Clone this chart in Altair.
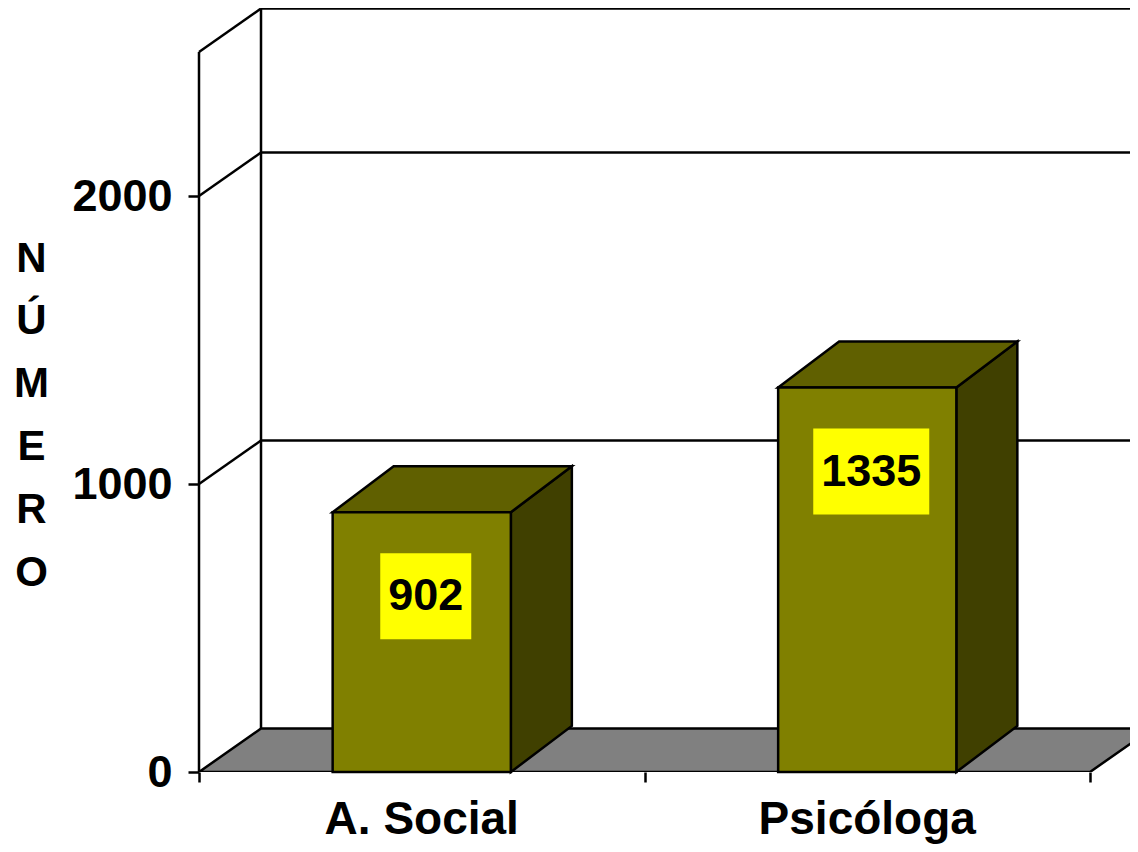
import altair as alt
import pandas as pd

# ---- data ----
categories = ["A. Social", "Psicóloga"]
values = [902, 1335]
y_tick_values = [0, 1000, 2000]
wall_levels = [1000, 2000, 2500]
axis_max = 2500
axis_title = ["N", "Ú", "M", "E", "R", "O"]

# ---- geometry / style constants ----
PX_X = 445.5          # pixels per category slot
PX_Y = 0.288          # pixels per value unit
W, H = 931, 764       # plot area
XMAX = W / PX_X
YMAX = H / PX_Y
WDX = 62 / PX_X       # wall depth offset
WDY = 43.5 / PX_Y
BDX = 61 / PX_X       # bar depth offset
BDY = 46 / PX_Y
BW = 0.4              # bar width in category units
LOFF = 4 / PX_X       # label box horizontal shift
FONT = "Liberation Sans"
LW = 2.5

n = len(categories)
centers = [i + 0.5 for i in range(n)]

xs = alt.Scale(domain=[0, XMAX], nice=False, zero=False)
ys = alt.Scale(domain=[0, YMAX], nice=False, zero=False)

xaxis = alt.Axis(values=list(range(n + 1)), labels=False, title=None, domain=False,
                 grid=False, tickSize=10, tickWidth=LW, tickColor="black")
yaxis = alt.Axis(values=y_tick_values, format="d", domain=False, grid=False, tickSize=11,
                 tickWidth=LW, tickColor="black", labelPadding=16,
                 labelFont=FONT, labelFontSize=45, labelFontWeight="bold",
                 labelColor="black", title=axis_title, titleAngle=0,
                 titleAlign="center", titleBaseline="middle", titleFont=FONT,
                 titleFontSize=42, titleFontWeight="bold", titleColor="black",
                 titleLineHeight=62.8, titleX=-168, titleY=250)


def X(f="x"):
    return alt.X(f"{f}:Q", scale=xs, axis=xaxis)


def Y(f="y"):
    return alt.Y(f"{f}:Q", scale=ys, axis=yaxis)


# floor
floor_df = pd.DataFrame({"y": [0, WDY], "x": [0, WDX], "x2": [n, n + WDX]})
floor = alt.Chart(floor_df).mark_area(
    orient="horizontal", fill="#808080", stroke="black", strokeWidth=LW, clip=True
).encode(y=Y(), x=X(), x2=alt.X2("x2:Q"))

# walls
rows = []
for v in wall_levels:
    rows.append({"x": WDX, "x2": XMAX, "y": v + WDY, "y2": v + WDY})
    rows.append({"x": 0, "x2": WDX, "y": v, "y2": v + WDY})
rows.append({"x": 0, "x2": 0, "y": 0, "y2": axis_max})
rows.append({"x": WDX, "x2": WDX, "y": WDY, "y2": axis_max + WDY})
walls = alt.Chart(pd.DataFrame(rows)).mark_rule(
    color="black", strokeWidth=LW
).encode(x=X(), x2=alt.X2("x2:Q"), y=Y(), y2=alt.Y2("y2:Q"))

# bars
side_rows, top_rows, front_rows, box_rows = [], [], [], []
for cat, c, v in zip(categories, centers, values):
    side_rows += [
        {"cat": cat, "x": c + BW / 2, "y": v, "y2": 0},
        {"cat": cat, "x": c + BW / 2 + BDX, "y": v + BDY, "y2": BDY},
    ]
    top_rows += [
        {"cat": cat, "y": v, "x": c - BW / 2, "x2": c + BW / 2},
        {"cat": cat, "y": v + BDY, "x": c - BW / 2 + BDX, "x2": c + BW / 2 + BDX},
    ]
    front_rows.append({"cat": cat, "x": c - BW / 2, "x2": c + BW / 2, "y": 0, "y2": v})
    hw = (len(str(v)) * 12.5 + 8) / PX_X
    box_rows.append({"cat": cat, "x": c + LOFF - hw, "x2": c + LOFF + hw,
                     "xc": c + LOFF, "y": v, "label": str(v)})

side = alt.Chart(pd.DataFrame(side_rows)).mark_area(
    orient="vertical", fill="#404000", stroke="black", strokeWidth=LW
).encode(x=X(), y=Y(), y2=alt.Y2("y2:Q"), detail="cat:N")

top = alt.Chart(pd.DataFrame(top_rows)).mark_area(
    orient="horizontal", fill="#606000", stroke="black", strokeWidth=LW
).encode(y=Y(), x=X(), x2=alt.X2("x2:Q"), detail="cat:N")

front = alt.Chart(pd.DataFrame(front_rows)).mark_rect(
    fill="#808000", stroke="black", strokeWidth=LW
).encode(x=X(), x2=alt.X2("x2:Q"), y=Y(), y2=alt.Y2("y2:Q"))

box_df = pd.DataFrame(box_rows)
boxes = alt.Chart(box_df).mark_rect(
    fill="#FFFF00", yOffset=41, y2Offset=127
).encode(x=X(), x2=alt.X2("x2:Q"), y=Y(), y2=alt.Y2("y:Q"))

labels = alt.Chart(box_df).mark_text(
    font=FONT, fontSize=45, fontWeight="bold", color="black",
    baseline="middle", align="center", dy=84
).encode(x=X("xc"), y=Y(), text="label:N")

cat_df = pd.DataFrame({"x": centers, "y": [0] * n, "cat": categories})
cat_labels = alt.Chart(cat_df).mark_text(
    font=FONT, fontSize=46, fontWeight="bold", color="black",
    baseline="alphabetic", align="center", dy=62
).encode(x=X(), y=Y(), text="cat:N")

chart = alt.layer(floor, walls, side, top, front, boxes, labels, cat_labels).properties(
    width=W, height=H,
    autosize=alt.AutoSizeParams(type="none"),
    padding={"left": 191, "top": 0, "right": 0, "bottom": 72},
    background="white",
).configure_view(stroke=None)

chart.save("out.html", embed_options={"renderer": "svg", "actions": False})
